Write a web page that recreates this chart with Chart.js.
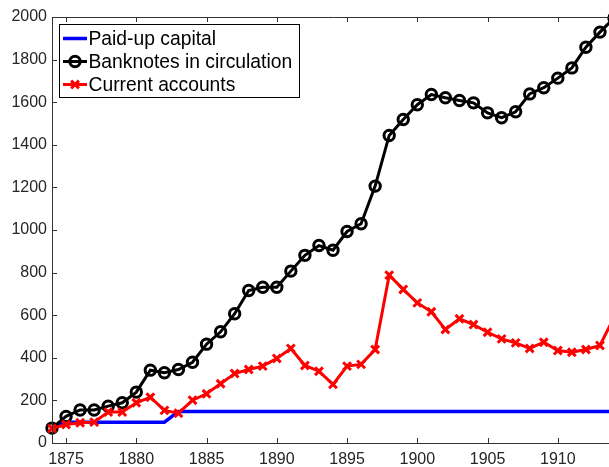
<!DOCTYPE html>
<html>
<head>
<meta charset="utf-8">
<script src="https://cdn.jsdelivr.net/npm/chart.js@4.4.1/dist/chart.umd.min.js"></script>
<style>
  html, body { margin: 0; padding: 0; background: #fff; overflow: hidden; }
  #clip { width: 609px; height: 467px; overflow: hidden; position: relative; }
  #chart { display: block; position: absolute; left: 0; top: 0; }
</style>
</head>
<body>
<div id="clip"><canvas id="chart" width="616" height="467"></canvas></div>
<script>
// ---- data ----
const years = [1874, 1875, 1876, 1877, 1878, 1879, 1880, 1881, 1882, 1883,
               1884, 1885, 1886, 1887, 1888, 1889, 1890, 1891, 1892, 1893,
               1894, 1895, 1896, 1897, 1898, 1899, 1900, 1901, 1902, 1903,
               1904, 1905, 1906, 1907, 1908, 1909, 1910, 1911, 1912, 1913, 1914];

const paidUpCapital = [75, 98, 98, 98, 98, 98, 98, 98, 98, 148,
                       148, 148, 148, 148, 148, 148, 148, 148, 148, 148,
                       148, 148, 148, 148, 148, 148, 148, 148, 148, 148,
                       148, 148, 148, 148, 148, 148, 148, 148, 148, 148, 148];

const banknotes = [70, 125, 155, 155, 173, 189, 239, 342, 330, 345,
                   379, 464, 522, 607, 716, 731, 731, 807, 881, 927,
                   905, 993, 1029, 1206, 1444, 1519, 1588, 1636, 1621, 1608,
                   1597, 1550, 1527, 1555, 1639, 1668, 1713, 1761, 1858, 1929, 1995];

const currentAccounts = [68, 87, 95, 98, 145, 145, 189, 215, 153, 140,
                         201, 231, 278, 326, 345, 361, 397, 444, 364, 337,
                         275, 361, 369, 439, 788, 721, 658, 616, 533, 583,
                         556, 520, 489, 470, 444, 473, 434, 426, 439, 458, 590];

const seriesNames = ["Paid-up capital", "Banknotes in circulation", "Current accounts"];
const xTicks = [1875, 1880, 1885, 1890, 1895, 1900, 1905, 1910];
const yTicks = [0, 200, 400, 600, 800, 1000, 1200, 1400, 1600, 1800, 2000];

const toPoints = (vals) => vals.map((v, i) => ({ x: years[i], y: v }));

Chart.defaults.font.family = "'Liberation Sans', Arial, sans-serif";
Chart.defaults.color = "#262626";

// matlab-like box with inward ticks
const axesBox = {
    id: "axesBox",
    afterDatasetsDraw(chart) {
        const { ctx, chartArea: a, scales } = chart;
        const tl = 5;
        ctx.save();
        ctx.strokeStyle = "#333";
        ctx.lineWidth = 1;
        ctx.beginPath();
        ctx.rect(a.left + 0.5, a.top + 0.5, a.right - a.left, a.bottom - a.top);
        scales.x.ticks.forEach((t) => {
            const px = Math.round(scales.x.getPixelForValue(t.value)) + 0.5;
            ctx.moveTo(px, a.bottom); ctx.lineTo(px, a.bottom - tl);
            ctx.moveTo(px, a.top); ctx.lineTo(px, a.top + tl);
        });
        scales.y.ticks.forEach((t) => {
            const py = Math.round(scales.y.getPixelForValue(t.value)) + 0.5;
            ctx.moveTo(a.left, py); ctx.lineTo(a.left + tl, py);
            ctx.moveTo(a.right, py); ctx.lineTo(a.right - tl, py);
        });
        ctx.stroke();
        ctx.restore();
    },
    afterDraw(chart) {
        // legend box
        const ctx = chart.ctx;
        const order = [0, 1, 2];
        ctx.save();
        ctx.fillStyle = "#fff";
        ctx.fillRect(59.5, 24.5, 240, 73);
        ctx.strokeStyle = "#000";
        ctx.lineWidth = 1;
        ctx.strokeRect(59.5, 24.5, 240, 73);
        order.forEach((di, k) => {
            const ds = chart.data.datasets[di];
            const y = 38.5 + k * 23;
            ctx.strokeStyle = ds.borderColor;
            ctx.lineWidth = ds.borderWidth;
            ctx.beginPath();
            ctx.moveTo(63, y); ctx.lineTo(87, y);
            ctx.stroke();
            if (ds.pointRadius > 0) {
                ctx.strokeStyle = ds.pointBorderColor;
                ctx.fillStyle = "rgba(0,0,0,0)";
                ctx.lineWidth = ds.pointBorderWidth;
                Chart.helpers.drawPoint(ctx, {
                    pointStyle: ds.pointStyle, radius: ds.pointRadius,
                    rotation: 0, borderWidth: ds.pointBorderWidth
                }, 75, y);
            }
            ctx.fillStyle = "#000";
            ctx.font = "19.3px 'Liberation Sans', Arial, sans-serif";
            ctx.textBaseline = "alphabetic";
            ctx.fillText(seriesNames[di], 88.5, y + 6.8);
        });
        ctx.restore();
    }
};

new Chart(document.getElementById("chart"), {
    type: "line",
    data: {
        datasets: [
            {
                label: seriesNames[0],
                data: toPoints(paidUpCapital),
                borderColor: "#0000ff",
                borderWidth: 3.5,
                pointRadius: 0,
                order: 2
            },
            {
                label: seriesNames[1],
                data: toPoints(banknotes),
                borderColor: "#000000",
                borderWidth: 3,
                pointStyle: "circle",
                pointRadius: 5.2,
                pointBorderWidth: 3,
                pointBorderColor: "#000000",
                pointBackgroundColor: "rgba(0,0,0,0)",
                order: 1
            },
            {
                label: seriesNames[2],
                data: toPoints(currentAccounts),
                borderColor: "#ff0000",
                borderWidth: 3,
                pointStyle: "crossRot",
                pointRadius: 5.5,
                pointBorderWidth: 3,
                pointBorderColor: "#ff0000",
                pointBackgroundColor: "#ff0000",
                order: 0
            }
        ]
    },
    options: {
        responsive: false,
        animation: false,
        // canvas is wider than the page: the source figure is cut off on the right
        layout: { autoPadding: false, padding: { top: 17, right: 2, left: 0, bottom: 0 } },
        elements: { line: { tension: 0 } },
        datasets: { line: { clip: false } },
        plugins: { legend: { display: false }, tooltip: { enabled: false } },
        scales: {
            x: {
                type: "linear",
                min: 1874,
                max: 1914,
                grid: { display: false, drawTicks: false },
                border: { display: false },
                afterBuildTicks: (scale) => { scale.ticks = xTicks.map((v) => ({ value: v })); },
                afterFit: (scale) => {
                    scale.height = 24;
                    scale.paddingLeft = 0;
                    scale.paddingRight = 0;
                },
                ticks: {
                    autoSkip: false,
                    maxRotation: 0,
                    padding: 7,
                    font: { size: 16 },
                    callback: (v) => String(v)
                }
            },
            y: {
                min: 0,
                max: 2000,
                grid: { display: false, drawTicks: false },
                border: { display: false },
                afterBuildTicks: (scale) => { scale.ticks = yTicks.map((v) => ({ value: v })); },
                afterFit: (scale) => { scale.width = 52; },
                ticks: {
                    padding: 5,
                    font: { size: 16 },
                    callback: (v) => String(v)
                }
            }
        }
    },
    plugins: [axesBox]
});
</script>
</body>
</html>
